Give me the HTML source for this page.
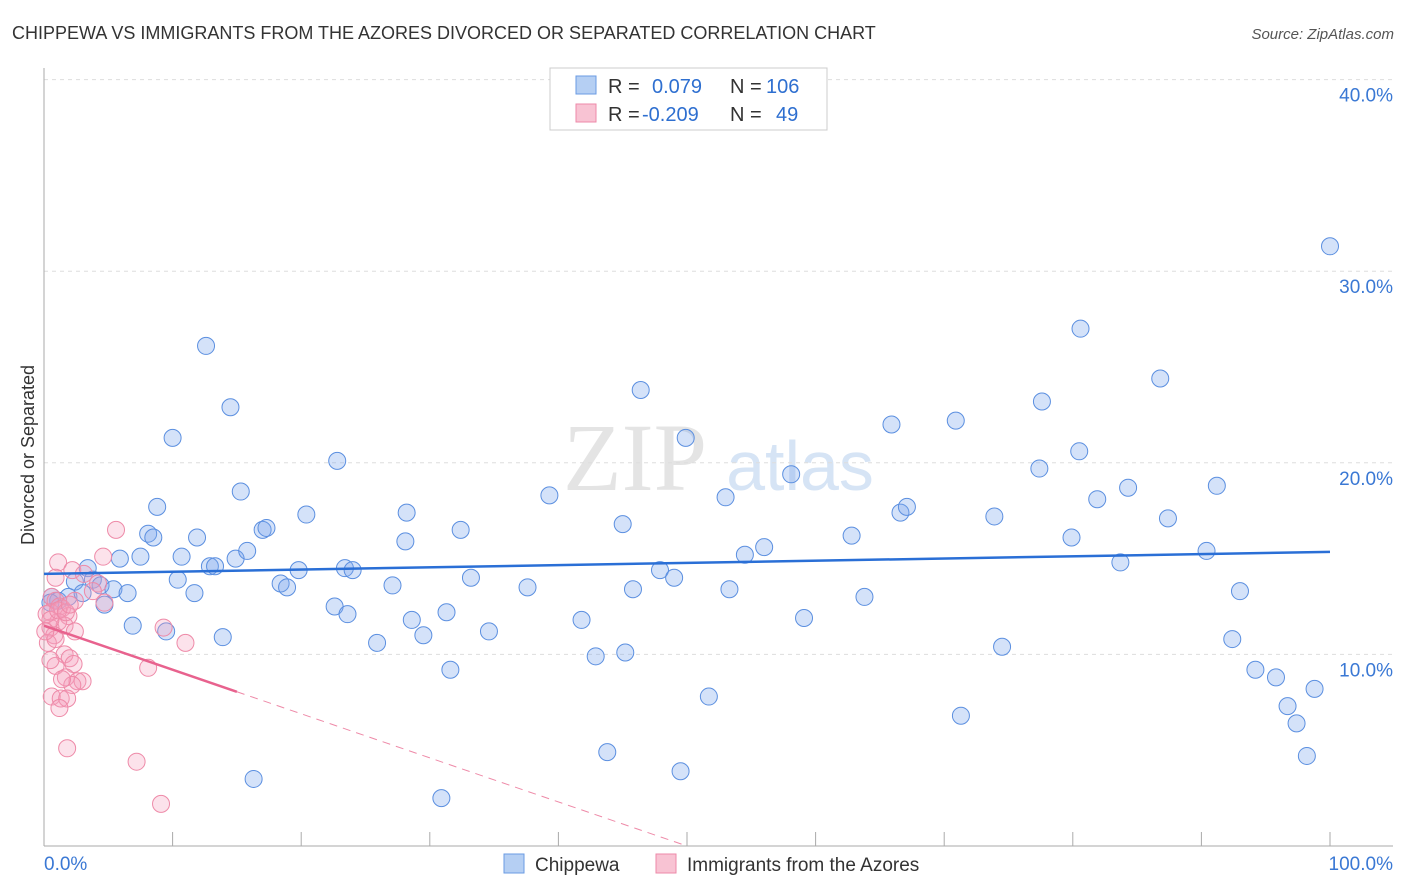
<!DOCTYPE html>
<html><head><meta charset="utf-8"><style>
body{margin:0;background:#fff;font-family:"Liberation Sans",sans-serif}
svg{display:block}
</style></head><body>
<svg width="1406" height="892" xmlns="http://www.w3.org/2000/svg">
<text x="12" y="39" font-size="18" fill="#333">CHIPPEWA VS IMMIGRANTS FROM THE AZORES DIVORCED OR SEPARATED CORRELATION CHART</text>
<text x="1394" y="39" font-size="15" fill="#555" font-style="italic" text-anchor="end">Source: ZipAtlas.com</text>
<g><text x="635" y="490" font-size="96" font-family="Liberation Serif" fill="#e4e4e4" text-anchor="middle">ZIP</text><text x="800" y="490" font-size="70" fill="#d6e4f5" text-anchor="middle">atlas</text></g>
<g id="grid"></g><g id="axes"></g><g id="marks"></g>
<text transform="translate(34,455) rotate(-90)" font-size="18" fill="#333" text-anchor="middle">Divorced or Separated</text>
<g>
<rect x="550" y="68" width="277" height="62" fill="#fff" stroke="#ccc"/>
<rect x="576" y="76" width="20" height="18" fill="#b5cff3" stroke="#6a9be3"/>
<text x="608" y="93" font-size="20" fill="#333">R =</text><text x="652" y="93" font-size="20" fill="#2e6fd0">0.079</text>
<text x="730" y="93" font-size="20" fill="#333">N =</text><text x="766" y="93" font-size="20" fill="#2e6fd0">106</text>
<rect x="576" y="104" width="20" height="18" fill="#f8c3d3" stroke="#ee8aa8"/>
<text x="608" y="121" font-size="20" fill="#333">R =</text><text x="642" y="121" font-size="20" fill="#2e6fd0">-0.209</text>
<text x="730" y="121" font-size="20" fill="#333">N =</text><text x="776" y="121" font-size="20" fill="#2e6fd0">49</text>
</g>
<g>
<rect x="504" y="854" width="20" height="19" fill="#b5cff3" stroke="#6a9be3"/><text x="535" y="871" font-size="19" fill="#333">Chippewa</text>
<rect x="656" y="854" width="20" height="19" fill="#f8c3d3" stroke="#ee8aa8"/><text x="687" y="871" font-size="19" fill="#333">Immigrants from the Azores</text>
</g>
</svg>
<script>
const yTicks=[10,20,30,40];
const yTickLabels=["10.0%","20.0%","30.0%","40.0%"];
const xTickLabels=["0.0%","100.0%"];
const blueX=[12.6,14.5,10.0,22.8,15.3,8.8,8.1,8.5,11.9,5.9,7.5,10.7,12.9,13.3,14.9,15.8,17.0,17.3,20.4,10.4,11.7,18.4,18.9,19.8,22.6,23.4,24.0,23.6,27.1,25.9,28.1,28.2,28.6,29.5,31.3,31.6,32.4,33.2,34.6,37.6,39.3,41.8,42.9,43.8,45.0,45.2,45.8,46.4,47.9,49.0,49.5,49.9,51.7,53.0,53.3,54.5,56.0,58.1,59.1,62.8,63.8,65.9,66.6,67.1,70.9,71.3,73.9,74.5,77.4,77.6,79.9,80.5,80.6,81.9,83.7,84.3,86.8,87.4,90.4,91.2,92.4,93.0,94.2,95.8,96.7,97.4,98.2,98.8,100,16.3,30.9,3.4,2.4,3.8,4.4,4.7,5.4,6.5,6.9,9.5,13.9,0.6,1.1,1.9,3.0,0.5];
const blueY=[26.1,22.9,21.3,20.1,18.5,17.7,16.3,16.1,16.1,15.0,15.1,15.1,14.6,14.6,15.0,15.4,16.5,16.6,17.3,13.9,13.2,13.7,13.5,14.4,12.5,14.5,14.4,12.1,13.6,10.6,15.9,17.4,11.8,11.0,12.2,9.2,16.5,14.0,11.2,13.5,18.3,11.8,9.9,4.9,16.8,10.1,13.4,23.8,14.4,14.0,3.9,21.3,7.8,18.2,13.4,15.2,15.6,19.4,11.9,16.2,13.0,22.0,17.4,17.7,22.2,6.8,17.2,10.4,19.7,23.2,16.1,20.6,27.0,18.1,14.8,18.7,24.4,17.1,15.4,18.8,10.8,13.3,9.2,8.8,7.3,6.4,4.7,8.2,31.3,3.5,2.5,14.5,13.8,13.9,13.6,12.6,13.4,13.2,11.5,11.2,10.9,13.0,12.8,13.0,13.2,12.7];
const pinkX=[5.6,4.6,1.1,0.9,2.2,3.1,4.2,3.8,0.6,0.9,1.2,0.5,1.4,2.4,1.9,1.1,0.5,1.6,2.4,0.8,0.3,1.6,2.0,0.9,2.3,1.7,2.6,3.0,2.2,0.6,1.3,1.8,1.2,1.8,4.7,9.3,11.0,8.1,7.2,9.1,0.2,0.5,0.9,0.1,0.5,1.4,1.1,1.7,2.0];
const pinkY=[16.5,15.1,14.8,14.0,14.4,14.2,13.7,13.3,13.0,12.8,12.5,12.2,12.4,12.8,12.0,11.7,11.4,11.5,11.2,11.0,10.6,10.0,9.8,9.4,9.5,8.8,8.6,8.6,8.4,7.8,7.7,7.7,7.2,5.1,12.7,11.4,10.6,9.3,4.4,2.2,12.1,11.8,10.8,11.2,9.7,8.7,12.3,12.2,12.6];
const blueTrend=[14.2,15.35];
const pinkTrend=[11.5,-11.5];
const NS="http://www.w3.org/2000/svg";
const sx=v=>44+v*12.86, sy=v=>846-v*19.16;
function mk(tag,attrs,parent){const e=document.createElementNS(NS,tag);for(const k in attrs)e.setAttribute(k,attrs[k]);document.getElementById(parent).appendChild(e);return e;}
yTicks.forEach((t,i)=>{
 const g=mk('line',{x1:44,x2:1393,y1:sy(t),y2:sy(t),stroke:'#ddd','stroke-dasharray':'4,4'},'grid');
 
 
 const l=mk('text',{x:1393,y:sy(t)+22,'font-size':19,fill:'#3a78d4','text-anchor':'end'},'axes');
 l.textContent=yTickLabels[i];
 
 
});
const ax=mk('line',{x1:44,x2:44,y1:68,y2:846,stroke:'#aaa'},'axes');


const bx=mk('line',{x1:44,x2:1393,y1:846,y2:846,stroke:'#aaa'},'axes');


for(let i=0;i<=10;i++){const t=mk('line',{x1:sx(i*10),x2:sx(i*10),y1:832,y2:846,stroke:'#aaa'},'axes');
 
 }
[[0,'start'],[100,'end']].forEach((p,i)=>{const l=mk('text',{x:sx(p[0])+(i?63:0),y:870,'font-size':19,fill:'#3a78d4','text-anchor':p[1]},'axes');
 l.textContent=xTickLabels[i];
 
 });
blueX.forEach((x,i)=>{const c=mk('circle',{cx:sx(x),cy:sy(blueY[i]),r:8.5,fill:'rgba(120,165,235,0.32)',stroke:'#5b8fe0','stroke-width':1},'marks');
 
 });
pinkX.forEach((x,i)=>{const c=mk('circle',{cx:sx(x),cy:sy(pinkY[i]),r:8.5,fill:'rgba(245,160,190,0.3)',stroke:'#ee8aa8','stroke-width':1},'marks');
 
 });
const bl=mk('line',{x1:sx(0),y1:sy(blueTrend[0]),x2:sx(100),y2:sy(blueTrend[1]),stroke:'#2a6fd6','stroke-width':2.5},'marks');


const pAt=x=>pinkTrend[0]+(pinkTrend[1]-pinkTrend[0])*x/100;
const pl=mk('line',{x1:sx(0),y1:sy(pAt(0)),x2:sx(15),y2:sy(pAt(15)),stroke:'#e8628e','stroke-width':2.5},'marks');


const pd=mk('line',{x1:sx(15),y1:sy(pAt(15)),x2:sx(50),y2:sy(pAt(50)),stroke:'#ee8aa8','stroke-width':1,'stroke-dasharray':'8,6'},'marks');


</script>
</body></html>
